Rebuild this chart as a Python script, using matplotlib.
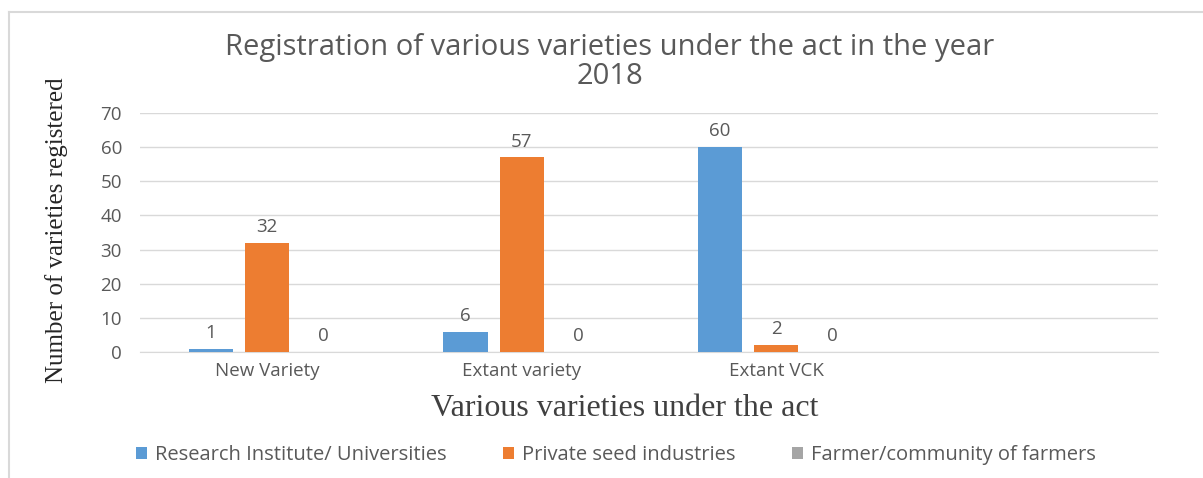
import matplotlib
matplotlib.use("Agg")
import matplotlib.pyplot as plt
from matplotlib.lines import Line2D
import numpy as np

# values
categories = ["New Variety", "Extant variety", "Extant VCK", ""]
research = [1, 6, 60, None]
private = [32, 57, 2, None]
farmers = [0, 0, 0, None]
series_names = ["Research Institute/ Universities", "Private seed industries",
                "Farmer/community of farmers"]
yticks = [0, 10, 20, 30, 40, 50, 60, 70]

COLORS = ["#5b9bd5", "#ed7d31", "#a5a5a5"]
TEXT = "#595959"
SANS = ["Open Sans", "DejaVu Sans"]
SERIF = ["Liberation Serif", "DejaVu Serif"]

fig = plt.figure(figsize=(12.03, 4.78), dpi=100)
ax = fig.add_axes([140 / 1203, 1 - 352 / 478, 1018 / 1203, (352 - 113) / 478])

x = np.arange(len(categories))
width = 0.174
offset = 0.221
for i, (vals, name) in enumerate(zip([research, private, farmers], series_names)):
    xs = [xi + (i - 1) * offset for xi, v in zip(x, vals) if v is not None]
    ys = [v for v in vals if v is not None]
    ax.bar(xs, ys, width, color=COLORS[i], label=name, zorder=3)
    for xb, yb in zip(xs, ys):
        ax.text(xb, yb + 2.0, str(yb), ha="center", va="bottom", fontsize=13.5,
                color=TEXT, family=SANS)

ax.set_xlim(-0.5, 3.5)
ax.set_ylim(0, 70)
ax.set_yticks(yticks)
ax.set_xticks(x)
ax.set_xticklabels(categories, fontsize=13.5, color=TEXT, family=SANS)
ax.tick_params(axis="both", length=0, colors=TEXT)
ax.tick_params(axis="y", pad=13, labelsize=13.5)
ax.tick_params(axis="x", pad=7)
for lbl in ax.get_yticklabels():
    lbl.set_family(SANS)
ax.grid(axis="y", color="#d9d9d9", linewidth=1, zorder=0)
for side in ["top", "right", "left"]:
    ax.spines[side].set_visible(False)
ax.spines["bottom"].set_color("#d9d9d9")

ax.set_ylabel("Number of varieties registered", fontsize=18, family=SERIF,
              color="#262626")
ax.yaxis.set_label_coords(-0.082, 0.51)
ax.yaxis.label.set_va("center")
ax.set_xlabel("Various varieties under the act", fontsize=23, family=SERIF,
              color="#404040")
ax.xaxis.set_label_coords(0.476, -0.235)
ax.xaxis.label.set_va("center")

fig.text(0.507, 1 - 62 / 478, "Registration of various varieties under the act in the year\n2018",
         ha="center", va="center", fontsize=21, color=TEXT, family=SANS,
         linespacing=1.0)

leg = fig.legend(loc="center", bbox_to_anchor=(0.512, 1 - 455 / 478), ncol=3,
                 frameon=False, fontsize=14.5, handlelength=0.55, handleheight=0.55,
                 handletextpad=0.4, columnspacing=2.8)
for t in leg.get_texts():
    t.set_color(TEXT)
    t.set_family(SANS)

# outer chart frame (top and left edges visible)
fig.add_artist(Line2D([9 / 1203, 1], [1 - 12 / 478, 1 - 12 / 478],
                      transform=fig.transFigure, color="#d9d9d9", linewidth=1.5))
fig.add_artist(Line2D([9 / 1203, 9 / 1203], [0, 1 - 12 / 478],
                      transform=fig.transFigure, color="#d9d9d9", linewidth=1.5))

fig.savefig("out.png", dpi=100)
